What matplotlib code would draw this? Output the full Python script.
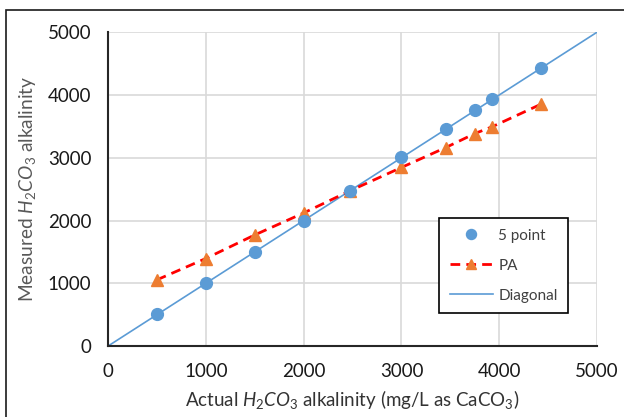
import matplotlib
matplotlib.use("Agg")
import matplotlib.pyplot as plt
from matplotlib.patches import Rectangle

# actual vs measured alkalinity (mg/L as CaCO3)
actual = [500, 1000, 1500, 2000, 2470, 3000, 3450, 3750, 3930, 4430]
five_point = [510, 1005, 1500, 2000, 2470, 3010, 3450, 3760, 3940, 4430]
pa = [1055, 1395, 1770, 2120, 2470, 2845, 3160, 3385, 3495, 3855]
diag = [0, 5000]

plt.rcParams["font.family"] = ["Lato", "DejaVu Sans"]
plt.rcParams["mathtext.fontset"] = "custom"
plt.rcParams["mathtext.rm"] = "Lato"
plt.rcParams["mathtext.it"] = "Lato:italic"

fig = plt.figure(figsize=(6.24, 4.17), dpi=100)
ax = fig.add_axes([0.173, 0.170, 0.784, 0.753])

# outer chart frame (left/top edges visible)
fig.patches.append(Rectangle((6 / 624, -0.05), 1.2, 1 - 10 / 417 + 0.05,
                             transform=fig.transFigure, fill=False,
                             edgecolor="#1a1a1a", linewidth=1.2))

ax.plot(actual, five_point, "o", color="#5b9bd5", markersize=8.5,
        label="5 point", zorder=4)
ax.plot(actual, pa, linestyle=(0, (3.5, 2.2)), color="#ff0000", linewidth=2,
        marker="^", markersize=8.5, markerfacecolor="#ed7d31",
        markeredgecolor="#ed7d31", label="PA", zorder=3)
ax.plot(diag, diag, color="#5b9bd5", linewidth=1.2, label="Diagonal", zorder=2)

ax.set_xlim(0, 5000); ax.set_ylim(0, 5000)
ax.set_xticks(range(0, 5001, 1000)); ax.set_yticks(range(0, 5001, 1000))
ax.grid(True, color="#d9d9d9", linewidth=1.2)
ax.set_axisbelow(True)
for s in ["top", "right"]:
    ax.spines[s].set_visible(False)
for s in ["left", "bottom"]:
    ax.spines[s].set_color("#262626"); ax.spines[s].set_linewidth(1.5)
ax.tick_params(length=0, labelsize=13.5, colors="#1a1a1a")
ax.tick_params(axis="y", pad=12)
ax.tick_params(axis="x", pad=12)

ax.set_xlabel(r"Actual $H_2CO_3$ alkalinity (mg/L as CaCO$_3$)",
              fontsize=13.5, color="#333333", labelpad=6)
ax.set_ylabel(r"Measured $H_2CO_3$ alkalinity", fontsize=13.8,
              color="#595959", labelpad=7)

leg = ax.legend(loc="upper right", bbox_to_anchor=(0.941, 0.408),
                borderaxespad=0, fancybox=False, edgecolor="black",
                framealpha=1, fontsize=11, labelspacing=1.05,
                handlelength=2.8, borderpad=0.7, handletextpad=0.35,
                markerscale=0.85)
leg.get_frame().set_linewidth(1.2)
for t in leg.get_texts():
    t.set_color("#404040")

fig.savefig("out.png", dpi=100)
